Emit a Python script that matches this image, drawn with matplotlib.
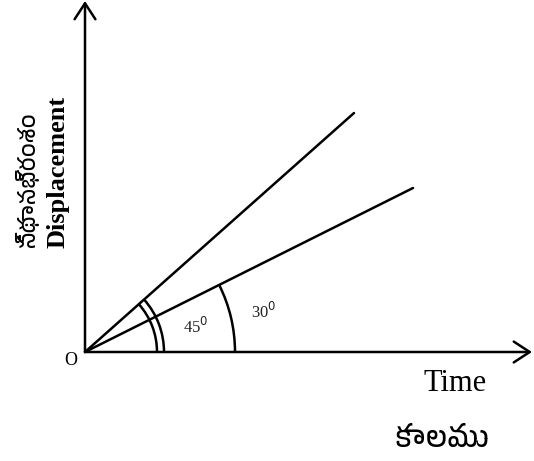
import matplotlib
matplotlib.use("Agg")
import matplotlib.pyplot as plt
from matplotlib.patches import Arc
from matplotlib import font_manager as fm
import numpy as np

# ---- data (pixel-space diagram coordinates) ----
origin = (85, 352)
x_axis_end = (532, 352)
y_axis_end = (85, 1)
line_ends_x = [354, 413]
line_ends_y = [113, 188]
angle_labels = ["45", "30"]
arc_radii_45 = [72, 79]
arc_radius_30 = [150]

tel_fams = [f.name for f in fm.fontManager.ttflist if "telugu" in f.name.lower()]
tel = tel_fams[0] if tel_fams else "DejaVu Sans"
serif = ["Liberation Serif", tel, "DejaVu Sans"]
telf = [tel, "DejaVu Sans"]

fig = plt.figure(figsize=(5.34, 4.61), dpi=100)
ax = fig.add_axes([0, 0, 1, 1])
ax.set_xlim(0, 534)
ax.set_ylim(461, 0)
ax.axis("off")

lw = 1.8
arrow = "->,head_length=1.15,head_width=0.75"
ax.annotate("", xy=x_axis_end, xytext=origin,
            arrowprops=dict(arrowstyle=arrow, lw=lw, color="black", shrinkA=0, shrinkB=0))
ax.annotate("", xy=y_axis_end, xytext=origin,
            arrowprops=dict(arrowstyle=arrow, lw=lw, color="black", shrinkA=0, shrinkB=0))

for xe, ye in zip(line_ends_x, line_ends_y):
    ax.plot([origin[0], xe], [origin[1], ye], color="black", lw=lw, solid_capstyle="round")

angs = [np.degrees(np.arctan2(origin[1] - ye, xe - origin[0])) for xe, ye in zip(line_ends_x, line_ends_y)]

for r in arc_radii_45:
    ax.add_patch(Arc(origin, 2 * r, 2 * r, theta1=-angs[0], theta2=0, color="black", lw=lw))
for r in arc_radius_30:
    ax.add_patch(Arc(origin, 2 * r, 2 * r, theta1=-angs[1], theta2=0, color="black", lw=lw))

ax.text(183, 327, angle_labels[0] + "$^0$", fontsize=12, family=serif, color="#222222", va="center")
ax.text(251, 312, angle_labels[1] + "$^0$", fontsize=12, family=serif, color="#222222", va="center")

ax.text(71, 360, "O", fontsize=13, family=serif, ha="center", va="center")
ax.text(455, 383, "Time", fontsize=22, family=serif, ha="center", va="center")
ax.text(442, 439, "కాలము", fontsize=21, family=telf, ha="center", va="center")
ax.text(58, 172, "Displacement", fontsize=19, family=serif, fontweight="bold",
        rotation=90, ha="center", va="center")
ax.text(27, 180, "స్థానభ్రంశం", fontsize=16, family=telf, rotation=90, ha="center", va="center")

fig.savefig("out.png", dpi=100)
